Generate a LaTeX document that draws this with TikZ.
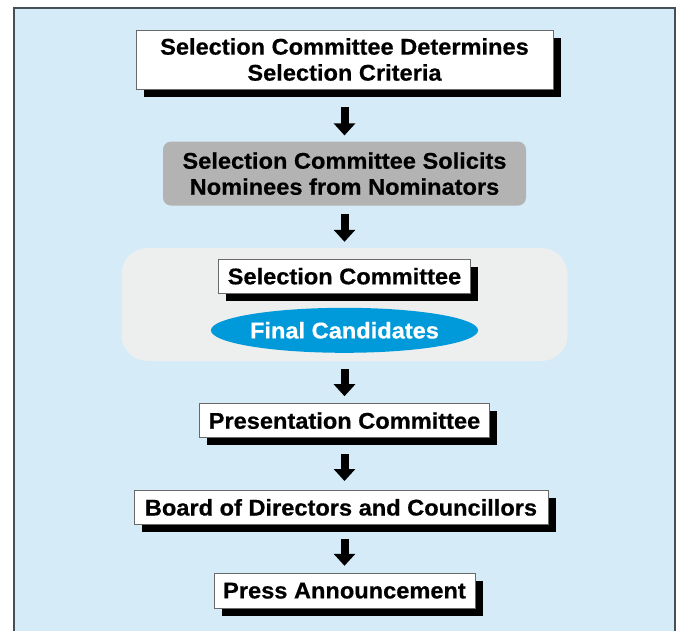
\documentclass[tikz,border=0pt]{standalone}
\usepackage{fontspec}
\setmainfont{Liberation Sans}[FakeStretch=1.04, BoldFeatures={FakeBold=0.6}]
\usetikzlibrary{positioning,shadows,arrows.meta,shapes.geometric}

\definecolor{framebg}{RGB}{213,235,248}
\definecolor{frameline}{RGB}{70,78,86}
\definecolor{boxline}{RGB}{105,105,105}
\definecolor{soligray}{RGB}{179,179,179}
\definecolor{grpbg}{RGB}{237,239,239}
\definecolor{candblue}{RGB}{0,154,219}

\begin{document}
\begin{tikzpicture} [
                x=1pt, y=-1pt,
                stepbox/.style={
                    rectangle,
                    draw=boxline,
                    fill=white,
                    line width=0.8pt,
                    minimum height=34pt,
                    inner xsep=4pt,
                    inner ysep=2pt,
                    align=center,
                    font=\bfseries\fontsize{22.7pt}{26pt}\selectfont,
                    general shadow={fill=black, shadow xshift=7.5pt, shadow yshift=-7.5pt}
                },
                solicitbox/.style={
                    rectangle,
                    rounded corners=8pt,
                    fill=soligray,
                    minimum width=363pt,
                    minimum height=64pt,
                    align=center,
                    font=\bfseries\fontsize{22.7pt}{26pt}\selectfont
                },
                groupbox/.style={
                    rectangle,
                    rounded corners=26pt,
                    fill=grpbg,
                    minimum width=446pt,
                    minimum height=113pt
                },
                candidate/.style={
                    ellipse,
                    fill=candblue,
                    text=white,
                    inner sep=0pt,
                    minimum width=255pt,
                    minimum height=45pt,
                    font=\bfseries\fontsize{22.7pt}{26pt}\selectfont
                },
                flowarrow/.style={
                    line width=8pt,
                    -{Triangle[width=21pt,length=12pt]}
                }
            ]

                \useasboundingbox (0,0) rectangle (678,630);

                % light blue panel, open at the bottom
                \fill[framebg] (14,8) rectangle (675,640);
                \draw[frameline, line width=1.5pt] (14,640) -- (14,8) -- (675,8) -- (675,640);

                \node[stepbox, minimum width=417pt, minimum height=59pt]   (criteria)  at (344.5,59.5)                  {Selection Committee Determines\\Selection Criteria};
                \node[solicitbox]                                          (solicit)   [below=52pt of criteria]         {Selection Committee Solicits\\Nominees from Nominators};
                \node[groupbox]                                            (grp)       [below=42pt of solicit]          {};
                \node[stepbox, minimum width=252pt]                        (selcom)    [below=11pt of grp.north]        {Selection Committee};
                \node[candidate]                                           (final)     [below=14pt of selcom]           {Final Candidates};
                \node[stepbox, minimum width=290pt]                        (present)   [below=42pt of grp]              {Presentation Committee};
                \node[stepbox, minimum width=414pt]                        (board)     [below=52pt of present, xshift=-3.5pt] {Board of Directors and Councillors};
                \node[stepbox, minimum width=261pt, minimum height=35pt]   (press)     [below=48pt of board, xshift=3.5pt]    {Press Announcement};

                \draw[flowarrow, shorten <=18pt, shorten >=6pt]    (criteria)  -- (solicit);
                \draw[flowarrow, shorten <=8pt,  shorten >=6pt]    (solicit)   -- (grp);
                \draw[flowarrow, shorten <=8pt,  shorten >=7pt]    (grp)       -- (present);
                \draw[flowarrow, shorten <=16pt, shorten >=9pt]    (present)   -- (present |- board.north);
                \draw[flowarrow, shorten <=14pt, shorten >=7pt]    (press |- board.south) -- (press);

            \end{tikzpicture}
\end{document}
